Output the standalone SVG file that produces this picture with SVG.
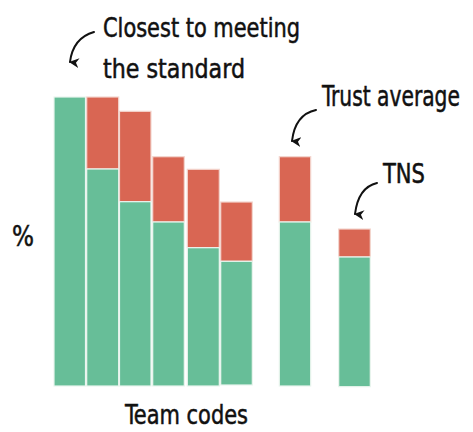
<svg xmlns="http://www.w3.org/2000/svg" width="473" height="432" viewBox="0 0 473 432">
<defs>
<style>
.g{fill:#67BE98;stroke:#EAF5EF;stroke-width:1.2}
.r{fill:#D96653;stroke:#F3D6CF;stroke-width:1.2}
.t{font-family:"DejaVu Sans Condensed","Liberation Sans Narrow","Liberation Sans",sans-serif;fill:#111;stroke:#111;stroke-width:0.5;font-size:26px}
.a{fill:none;stroke:#111;stroke-width:2;stroke-linecap:round}
</style>
<marker id="ah" viewBox="0 0 10 10" refX="5" refY="9" markerWidth="10" markerHeight="10" markerUnits="userSpaceOnUse" orient="auto">
<path d="M0,0 L5,10 L10,0 L5,3 Z" fill="#111"/>
</marker>
</defs>
<rect width="473" height="432" fill="#fff"/>
<g id="bar1"><rect class="g" x="54" y="97" width="31.5" height="289"/></g>
<g id="bar2"><rect class="r" x="86.7" y="97" width="32" height="72"/><rect class="g" x="86.7" y="169" width="32" height="217"/></g>
<g id="bar3"><rect class="r" x="119.5" y="111.3" width="31.5" height="90.4"/><rect class="g" x="119.5" y="201.7" width="31.5" height="184.3"/></g>
<g id="bar4"><rect class="r" x="152.7" y="156.7" width="31.6" height="65.3"/><rect class="g" x="152.7" y="222" width="31.6" height="164"/></g>
<g id="bar5"><rect class="r" x="187.3" y="169.3" width="32" height="78.4"/><rect class="g" x="187.3" y="247.7" width="32" height="138.3"/></g>
<g id="bar6"><rect class="r" x="220.7" y="202" width="31.6" height="59.3"/><rect class="g" x="220.7" y="261.3" width="31.6" height="123.7"/></g>
<g id="trust"><rect class="r" x="279.3" y="156.7" width="31.4" height="65.3"/><rect class="g" x="279.3" y="222" width="31.4" height="164"/></g>
<g id="tns"><rect class="r" x="338.7" y="229" width="31.6" height="28"/><rect class="g" x="338.7" y="257" width="31.6" height="129.7"/></g>
<g id="labels">
<text class="t" x="103" y="37" textLength="197" lengthAdjust="spacingAndGlyphs">Closest to meeting</text>
<text class="t" x="103" y="78" textLength="142" lengthAdjust="spacingAndGlyphs">the standard</text>
<text class="t" transform="translate(322,106) scale(1,1.25)" x="0" y="0" style="font-size:22.5px;stroke-width:0.4px">Trust average</text>
<text class="t" x="383" y="183" style="font-size:27px" textLength="42" lengthAdjust="spacingAndGlyphs">TNS</text>
<text class="t" x="12" y="246" style="font-size:28px" textLength="22" lengthAdjust="spacingAndGlyphs">%</text>
<text class="t" x="125" y="424" style="font-size:26px" textLength="123" lengthAdjust="spacingAndGlyphs">Team codes</text>
</g>
<g id="connectors">
<path class="a" d="M94,32 C80,36 72,46 70,62" marker-end="url(#ah)"/>
<path class="a" d="M316,110 C302,113 294,124 292,141" marker-end="url(#ah)"/>
<path class="a" d="M377,183 C364,186 357,198 355,214" marker-end="url(#ah)"/>
</g>
</svg>
